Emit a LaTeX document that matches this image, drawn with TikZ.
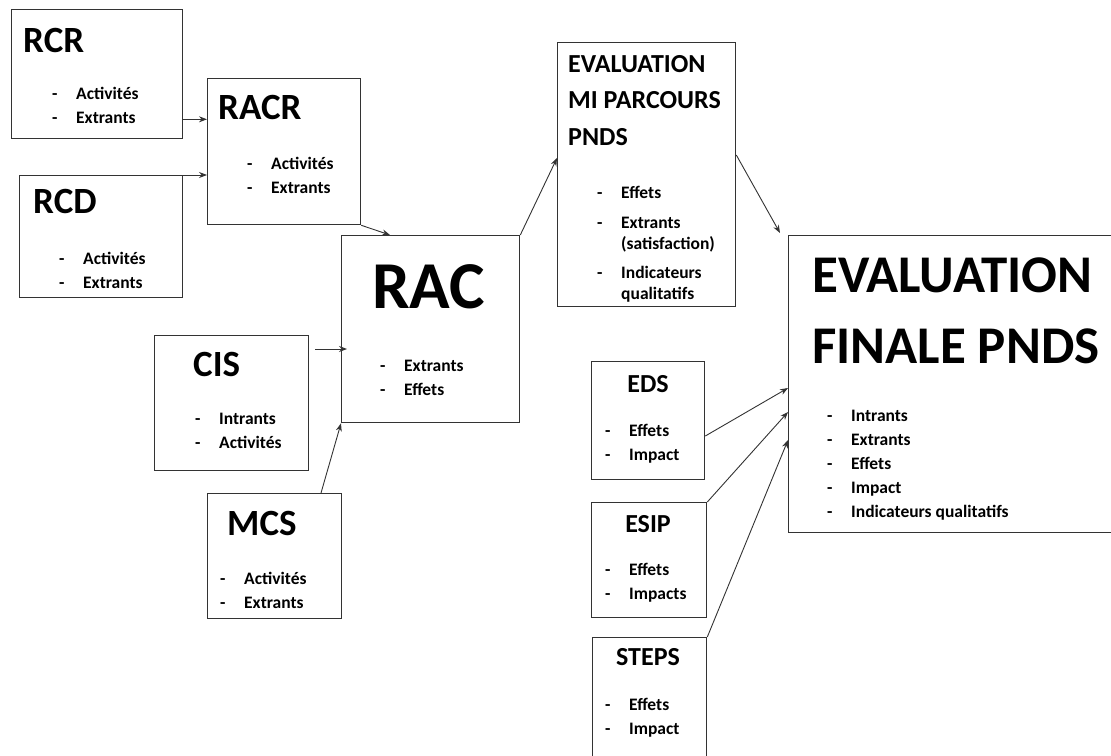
\documentclass[tikz,border=0pt]{standalone}
\usepackage{fontspec}
\setmainfont{Carlito}
\usetikzlibrary{arrows.meta}
\newcommand{\dash}{\makebox[24pt][l]{-}}

\begin{document}
\begin{tikzpicture}[x=1pt,y=-1pt]
    % `box' is used for every frame, `title' for the heading inside it.
    % `items' is used for the small lists, `link' for the arrows.
    % Several lines in a node: the base is the last line's baseline.
    \tikzstyle{box} = [draw=black!80,line width=1.3pt,anchor=north west,inner sep=0pt]
    \tikzstyle{title} = [anchor=base west,inner sep=0pt,font=\bfseries\fontsize{37}{40}\selectfont]
    \tikzstyle{subtitle} = [anchor=base,inner sep=0pt,font=\bfseries\fontsize{26}{36.5}\selectfont]
    \tikzstyle{items} = [anchor=base west,inner sep=0pt,align=left,font=\bfseries\fontsize{17.5}{24}\selectfont]
    \tikzstyle{link} = [draw=black!80,line width=0.9pt,-{Stealth[length=8pt,width=6pt]}]
    %
    \useasboundingbox (0,0) rectangle (1111,755);
    \clip (0,0) rectangle (1111,755);
    % Frames.
    \node[box,minimum width=171pt,minimum height=129pt] (rcr) at (11,9) {};
    \node[box,minimum width=163pt,minimum height=122pt] (rcd) at (19,175) {};
    \node[box,minimum width=153pt,minimum height=146pt] (racr) at (207,78) {};
    \node[box,minimum width=178pt,minimum height=187pt] (rac) at (341,235) {};
    \node[box,minimum width=154pt,minimum height=135pt] (cis) at (154,335) {};
    \node[box,minimum width=134pt,minimum height=125pt] (mcs) at (207,493) {};
    \node[box,minimum width=178pt,minimum height=264pt] (mi) at (557,42) {};
    \node[box,minimum width=360pt,minimum height=297pt] (fin) at (788,235) {};
    \node[box,minimum width=113pt,minimum height=118pt] (eds) at (591,361) {};
    \node[box,minimum width=115pt,minimum height=115pt] (esip) at (591,502) {};
    \node[box,minimum width=114pt,minimum height=160pt] (steps) at (592,637) {};
    % Headings.
    \node[title] (rcr-t) at (23,52) {RCR};
    \node[title] (rcd-t) at (33,213) {RCD};
    \node[title] (racr-t) at (218,119) {RACR};
    \node[title] (cis-t) at (193,376) {CIS};
    \node[title] (mcs-t) at (227,535) {MCS};
    \node[title,font=\bfseries\fontsize{67}{70}\selectfont] (rac-t) at (372,308) {RAC};
    \node[title,align=left,font=\bfseries\fontsize{26}{36.5}\selectfont] (mi-t) at (568,145)
      {EVALUATION\\MI PARCOURS\\PNDS};
    \node[title,align=left,font=\bfseries\fontsize{53}{71}\selectfont] (fin-t) at (812,363)
      {EVALUATION\\FINALE PNDS};
    \node[subtitle] (eds-t) at (648,392) {EDS};
    \node[subtitle] (esip-t) at (648,532) {ESIP};
    \node[subtitle] (steps-t) at (648,665) {STEPS};
    % Lists.
    \node[items] (rcr-l) at (52,123) {\dash Activités\\\dash Extrants};
    \node[items] (rcd-l) at (59,288) {\dash Activités\\\dash Extrants};
    \node[items] (racr-l) at (247,193) {\dash Activités\\\dash Extrants};
    \node[items] (rac-l) at (380,395) {\dash Extrants\\\dash Effets};
    \node[items] (cis-l) at (195,448) {\dash Intrants\\\dash Activités};
    \node[items] (mcs-l) at (220,608) {\dash Activités\\\dash Extrants};
    \node[items,font=\bfseries\fontsize{17.5}{21}\selectfont] (mi-l) at (597,299)
      {\dash Effets\\[9pt]\dash Extrants\\\hspace*{24pt}(satisfaction)\\[8pt]\dash Indicateurs\\\hspace*{24pt}qualitatifs};
    \node[items] (fin-l) at (827,517)
      {\dash Intrants\\\dash Extrants\\\dash Effets\\\dash Impact\\\dash Indicateurs qualitatifs};
    \node[items] (eds-l) at (605,460) {\dash Effets\\\dash Impact};
    \node[items] (esip-l) at (605,599) {\dash Effets\\\dash Impacts};
    \node[items] (steps-l) at (605,734) {\dash Effets\\\dash Impact};
    % Arrows.
    \draw[link] ([shift={(0,-20)}]rcr.south east) -- ([shift={(0,-20)}]rcr.south east -| racr.west);
    \draw[link] (rcd.north east) -- (rcd.north east -| racr.west);
    \draw[link] (racr.south east) -- ([shift={(49,0)}]rac.north west);
    \draw[link] ([shift={(6,14)}]cis.north east) -- ([shift={(6,14)}]cis.north east -| rac.west);
    \draw[link] ([shift={(114,0)}]mcs.north west) -- (rac.south west);
    \draw[link] (rac.north east) -- ([shift={(0,116)}]mi.north west);
    \draw[link] ([shift={(0,113)}]mi.north east) -- ([shift={(-8,-2)}]fin.north west);
    \draw[link] ([shift={(0,75)}]eds.north east) -- ([shift={(0,153)}]fin.north west);
    \draw[link] (esip.north east) -- ([shift={(0,177)}]fin.north west);
    \draw[link] (steps.north east) -- ([shift={(0,205)}]fin.north west);
\end{tikzpicture}
\end{document}
